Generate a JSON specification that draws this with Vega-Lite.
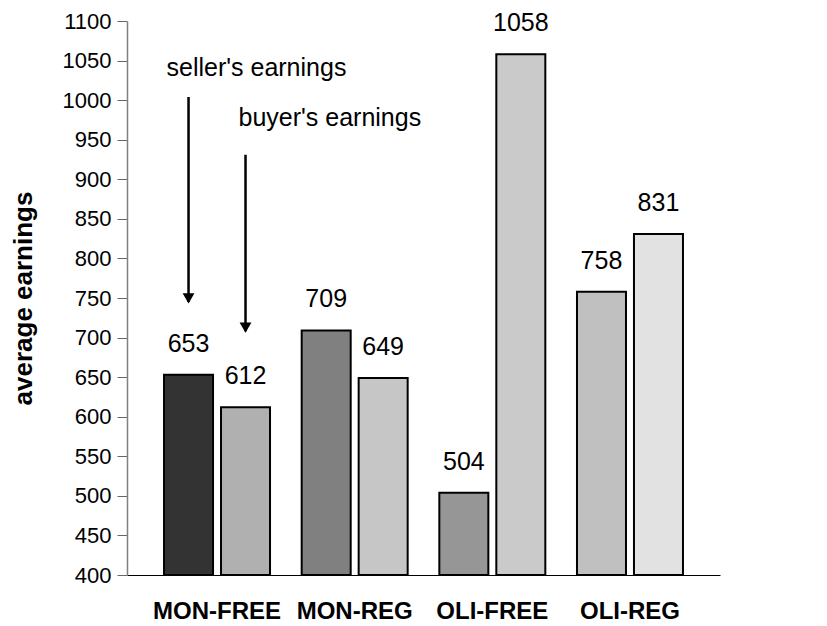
{
  "$schema": "https://vega.github.io/schema/vega-lite/v6.json",
  "width": 593,
  "height": 554,
  "autosize": {"type": "none"},
  "padding": {"left": 127, "top": 21, "right": 107, "bottom": 51},
  "background": "white",
  "config": {
    "view": {"stroke": null},
    "font": "Liberation Sans",
    "axisY": {
      "titleFont": "Liberation Sans",
      "titleFontSize": 26,
      "titleFontWeight": "bold",
      "titleColor": "#000000",
      "titleAngle": 270,
      "titleAlign": "center",
      "titleBaseline": "middle",
      "titleX": -104,
      "titleY": 277,
      "grid": false,
      "labelFont": "Liberation Sans",
      "labelFontSize": 22,
      "labelColor": "#000000",
      "labelPadding": 6,
      "labelOverlap": false,
      "tickSize": 10,
      "tickColor": "#666666",
      "domainColor": "#808080",
      "domainWidth": 1.5
    }
  },
  "datasets": {
    "bars": [
      {"cat": "MON-FREE", "who": "seller", "key": "MON-FREE seller", "value": 653},
      {"cat": "MON-FREE", "who": "buyer", "key": "MON-FREE buyer", "value": 612},
      {"cat": "MON-REG", "who": "seller", "key": "MON-REG seller", "value": 709},
      {"cat": "MON-REG", "who": "buyer", "key": "MON-REG buyer", "value": 649},
      {"cat": "OLI-FREE", "who": "seller", "key": "OLI-FREE seller", "value": 504},
      {"cat": "OLI-FREE", "who": "buyer", "key": "OLI-FREE buyer", "value": 1058},
      {"cat": "OLI-REG", "who": "seller", "key": "OLI-REG seller", "value": 758},
      {"cat": "OLI-REG", "who": "buyer", "key": "OLI-REG buyer", "value": 831}
    ],
    "arrows": [
      {"cat": "MON-FREE", "who": "seller", "top": 1004, "bottom": 745, "tip": 742, "label": "seller's earnings", "labelY": 1040},
      {"cat": "MON-FREE", "who": "buyer", "top": 931, "bottom": 708, "tip": 705, "label": "buyer's earnings", "labelY": 978}
    ]
  },
  "encoding": {
    "x": {
      "field": "cat",
      "type": "nominal",
      "sort": ["MON-FREE", "MON-REG", "OLI-FREE", "OLI-REG"],
      "scale": {"paddingInner": 0.23, "paddingOuter": 0.269},
      "axis": {
        "title": null,
        "labelAngle": 0,
        "labelFont": "Liberation Sans",
        "labelFontWeight": "bold",
        "labelFontSize": 24,
        "labelColor": "#000000",
        "labelPadding": 24,
        "domainColor": "#000000",
        "domainWidth": 1,
        "ticks": false
      }
    },
    "xOffset": {
      "field": "who",
      "type": "nominal",
      "sort": ["seller", "buyer"],
      "scale": {"paddingInner": 0.14, "paddingOuter": 0}
    }
  },
  "layer": [
    {
      "data": {"name": "bars"},
      "mark": {"type": "bar", "stroke": "#000000", "strokeWidth": 2},
      "encoding": {
        "y": {
          "field": "value",
          "type": "quantitative",
          "scale": {"domain": [400, 1100], "zero": false, "nice": false},
          "axis": {"title": "average earnings", "format": "d", "values": [400, 450, 500, 550, 600, 650, 700, 750, 800, 850, 900, 950, 1000, 1050, 1100]}
        },
        "y2": {"datum": 400},
        "color": {
          "field": "key",
          "type": "nominal",
          "legend": null,
          "scale": {
            "domain": ["MON-FREE seller", "MON-FREE buyer", "MON-REG seller", "MON-REG buyer", "OLI-FREE seller", "OLI-FREE buyer", "OLI-REG seller", "OLI-REG buyer"],
            "range": ["#333333", "#b0b0b0", "#808080", "#c6c6c6", "#969696", "#cacaca", "#c0c0c0", "#e2e2e2"]
          }
        }
      }
    },
    {
      "data": {"name": "bars"},
      "mark": {"type": "text", "baseline": "alphabetic", "dy": -23, "fontSize": 25, "font": "Liberation Sans", "color": "#000000"},
      "encoding": {
        "y": {"field": "value", "type": "quantitative", "axis": {"title": "average earnings", "format": "d", "values": [400, 450, 500, 550, 600, 650, 700, 750, 800, 850, 900, 950, 1000, 1050, 1100]}},
        "text": {"field": "value", "type": "quantitative"}
      }
    },
    {
      "data": {"name": "arrows"},
      "mark": {"type": "rule", "color": "#000000", "strokeWidth": 2.5},
      "encoding": {
        "y": {"field": "top", "type": "quantitative", "axis": {"title": "average earnings", "format": "d", "values": [400, 450, 500, 550, 600, 650, 700, 750, 800, 850, 900, 950, 1000, 1050, 1100]}},
        "y2": {"field": "bottom"}
      }
    },
    {
      "data": {"name": "arrows"},
      "mark": {"type": "point", "shape": "triangle-down", "filled": true, "color": "#000000", "opacity": 1, "size": 140, "yOffset": -6},
      "encoding": {
        "y": {"field": "tip", "type": "quantitative", "axis": {"title": "average earnings", "format": "d", "values": [400, 450, 500, 550, 600, 650, 700, 750, 800, 850, 900, 950, 1000, 1050, 1100]}}
      }
    },
    {
      "data": {"name": "arrows"},
      "transform": [{"filter": "datum.who === 'seller'"}],
      "mark": {"type": "text", "align": "left", "baseline": "middle", "dx": -22, "fontSize": 25, "font": "Liberation Sans", "color": "#000000"},
      "encoding": {
        "y": {"field": "labelY", "type": "quantitative", "axis": {"title": "average earnings", "format": "d", "values": [400, 450, 500, 550, 600, 650, 700, 750, 800, 850, 900, 950, 1000, 1050, 1100]}},
        "text": {"field": "label", "type": "nominal"}
      }
    },
    {
      "data": {"name": "arrows"},
      "transform": [{"filter": "datum.who === 'buyer'"}],
      "mark": {"type": "text", "align": "left", "baseline": "middle", "dx": -7, "fontSize": 25, "font": "Liberation Sans", "color": "#000000"},
      "encoding": {
        "y": {"field": "labelY", "type": "quantitative", "axis": {"title": "average earnings", "format": "d", "values": [400, 450, 500, 550, 600, 650, 700, 750, 800, 850, 900, 950, 1000, 1050, 1100]}},
        "text": {"field": "label", "type": "nominal"}
      }
    }
  ]
}
